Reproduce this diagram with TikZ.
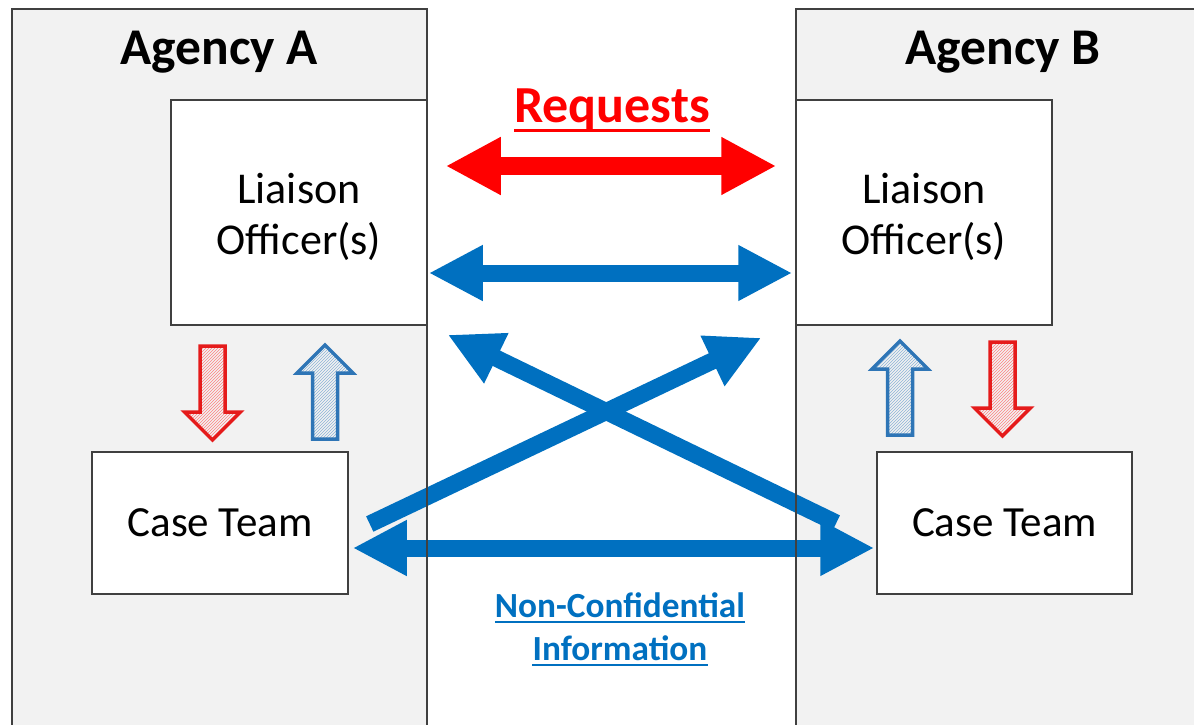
\documentclass[tikz,border=0pt]{standalone}
\usepackage{fontspec}
\setmainfont{Carlito}
\usetikzlibrary{arrows.meta,patterns,calc}
\definecolor{offblue}{HTML}{0070C0}
\definecolor{offred}{HTML}{FF0000}
\definecolor{panelgray}{HTML}{F2F2F2}
\definecolor{edgegray}{HTML}{404040}
\definecolor{hred}{HTML}{E51B1B}
\definecolor{hblue}{HTML}{2E75B6}
\begin{document}
\begin{tikzpicture}[x=1pt,y=-1pt,
  panel/.style={draw=edgegray,line width=1.5pt,fill=panelgray},
  panelline/.style={draw=edgegray,line width=1.5pt},
  box/.style={draw=edgegray,line width=1.5pt,fill=white,align=center,inner sep=0pt},
  lotext/.style={font=\fontsize{44}{51}\selectfont,align=center,inner sep=0pt},
  cttext/.style={font=\fontsize{43}{51}\selectfont},
  titletext/.style={font=\bfseries\fontsize{51.5}{60}\selectfont,anchor=base,inner sep=0pt},
  bluearrow/.style={offblue,line width=17pt,
    {Triangle[length=54pt,width=52pt]}-{Triangle[length=54pt,width=52pt]}},
  bluesingle/.style={offblue,line width=17pt,-{Triangle[length=54pt,width=52pt]}},
  redarrow/.style={offred,line width=18pt,
    {Triangle[length=55pt,width=54pt]}-{Triangle[length=55pt,width=54pt]}},
  hatchred/.style={draw=hred,line width=3.5pt,line join=miter,
    preaction={fill=red!12},pattern=north east lines,pattern color=red!50},
  hatchblue/.style={draw=hblue,line width=3.5pt,line join=miter,
    preaction={fill=hblue!18},pattern=north east lines,pattern color=hblue!55},
  hatchshape/.pic={\path[pic actions] (-12.5,0) -- (12.5,0) -- (12.5,66) -- (28,66)
    -- (0,94) -- (-28,66) -- (-12.5,66) -- cycle;}
]
\useasboundingbox (0,0) rectangle (1194,725);
\begin{scope}
  \clip (0,0) rectangle (1194,725);
  \fill[panelgray] (12,9) rectangle (427,740);
  \fill[panelgray] (796,9) rectangle (1215,740);
\end{scope}

% titles
\node[titletext] (tA) at (219.5,65) {Agency A};
\node[titletext] (tB) at (1003,65) {Agency B};

% boxes
\node[box,minimum width=256pt,minimum height=225pt] (loA) at (299,212.5) {};
\node[box,minimum width=256pt,minimum height=225pt] (loB) at (924,212.5) {};
\node[lotext] (loAt) at ($(loA.center)+(0,4)$) {Liaison\\Officer(s)};
\node[lotext] (loBt) at ($(loB.center)+(0,4)$) {Liaison\\Officer(s)};
\node[box,cttext,minimum width=256pt,minimum height=142pt] (ctA) at (220,523) {Case Team};
\node[box,cttext,minimum width=255pt,minimum height=142pt] (ctB) at (1004.5,523) {Case Team};

% hatched vertical arrows
\pic[hatchred] at (212.5,346) {hatchshape};
\pic[hatchblue,rotate=180] at (325,439) {hatchshape};
\pic[hatchblue,rotate=180] at (900,435) {hatchshape};
\pic[hatchred] at (1002.5,342) {hatchshape};

% Requests
\node[anchor=base,inner sep=0pt,text=offred,font=\bfseries\fontsize{52}{60}\selectfont] (req) at (612,122) {Requests};
\draw[offred,line width=3pt] ($(req.base west)+(0,8)$) -- ($(req.base east)+(0,8)$);

\draw[redarrow] ($(loA.east)+(18,-46.5)$) -- ($(loB.west)+(-19,-46.5)$);
\draw[bluearrow] ($(loA.east)+(1,60.5)$) -- ($(loB.west)+(-3,60.5)$);

% diagonals
\coordinate (d1s) at ($(ctA.east)+(21,1)$);
\coordinate (d1e) at ($(loB.south west)+(-34,12)$);
\coordinate (d2s) at ($(ctB.west)+(-40,0)$);
\coordinate (d2e) at ($(loA.south east)+(20,9)$);
\draw[bluesingle] (d2s) -- (d2e);
\draw[bluesingle] (d1s) -- (d1e);

\draw[bluearrow] ($(ctA.east)+(4,25)$) -- ($(ctB.west)+(-2,25)$);

% panel borders on top
\begin{scope}
  \clip (0,0) rectangle (1194,725);
  \draw[panelline] (12,740) -- (12,9) -- (427,9) -- (427,740);
  \draw[panelline] (1215,9) -- (796,9) -- (796,740);
\end{scope}

% Non-Confidential Information
\node[anchor=base,inner sep=0pt,text=offblue,font=\bfseries\fontsize{35.3}{43}\selectfont] (nc1) at (620,617) {Non-Confidential};
\node[anchor=base,inner sep=0pt,text=offblue,font=\bfseries\fontsize{35.3}{43}\selectfont] (nc2) at (620,660) {Information};
\draw[offblue,line width=2pt] ($(nc1.base west)+(0,5)$) -- ($(nc1.base east)+(0,5)$);
\draw[offblue,line width=2pt] ($(nc2.base west)+(0,5)$) -- ($(nc2.base east)+(0,5)$);
\end{tikzpicture}
\end{document}
